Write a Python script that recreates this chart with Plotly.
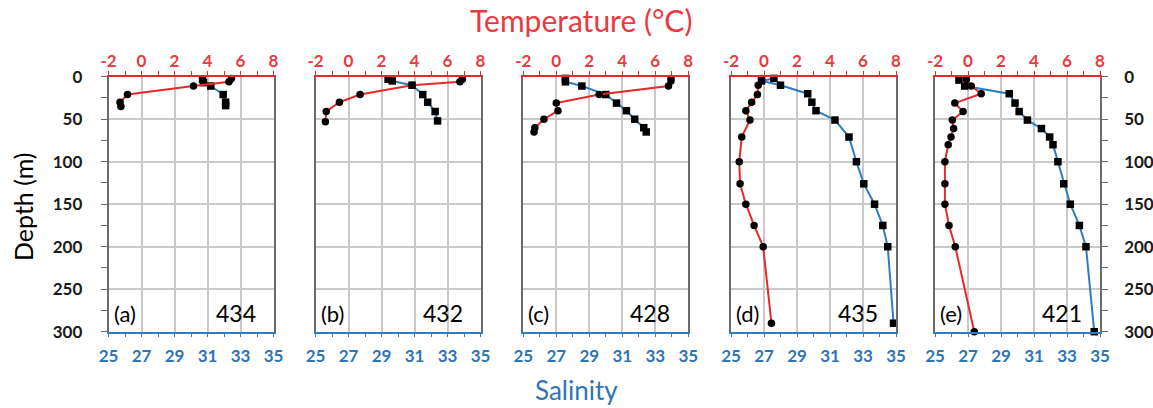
import plotly.graph_objects as go

W, H = 1153, 408

# ---------------- data ----------------
stations = ["434", "432", "428", "435", "421"]
panel_tags = ["(a)", "(b)", "(c)", "(d)", "(e)"]
temp_ticks = [-2, 0, 2, 4, 6, 8]
temp_tick_text = ["-2", "0", "2", "4", "6", "8"]
sal_ticks = [25, 27, 29, 31, 33, 35]
depth_ticks = [0, 50, 100, 150, 200, 250, 300]

temp_depth_a = [2, 6, 11, 21, 30, 35]
temp_a = [5.45, 5.3, 3.15, -0.85, -1.3, -1.25]
sal_depth_a = [3, 7, 11, 21, 30, 34]
sal_a = [30.7, 30.75, 31.2, 31.95, 32.1, 32.1]

temp_depth_b = [3, 6, 10, 21, 30, 41, 53]
temp_b = [6.9, 6.75, 3.85, 0.7, -0.55, -1.35, -1.4]
sal_depth_b = [3, 5, 10, 21, 30, 41, 52]
sal_b = [29.4, 29.65, 30.85, 31.5, 31.8, 32.25, 32.4]

temp_depth_c = [2, 5, 11, 21, 31, 40, 50, 60, 65]
temp_c = [6.95, 6.95, 6.8, 2.6, 0.0, 0.1, -0.75, -1.3, -1.35]
sal_depth_c = [2, 6, 11, 21, 31, 40, 50, 60, 65]
sal_c = [27.55, 27.55, 28.55, 30.0, 30.65, 31.25, 31.75, 32.3, 32.45]

temp_depth_d = [2, 10, 21, 30, 40, 51, 71, 100, 126, 150, 175, 200, 290]
temp_d = [-0.15, -0.35, -0.4, -0.75, -1.1, -0.85, -1.35, -1.5, -1.45, -1.1, -0.6, -0.05, 0.45]
sal_depth_d = [2, 5, 10, 20, 30, 40, 51, 71, 100, 126, 150, 175, 200, 290]
sal_d = [27.6, 26.85, 28.0, 29.65, 29.9, 30.15, 31.3, 32.15, 32.6, 33.05, 33.7, 34.2, 34.5, 34.85]

temp_depth_e = [3, 11, 20, 31, 41, 51, 61, 71, 80, 100, 126, 150, 175, 200, 300]
temp_e = [-0.1, 0.2, 0.8, -0.8, -0.3, -0.95, -0.87, -1.03, -1.2, -1.4, -1.4, -1.4, -1.15, -0.77, 0.38]
sal_depth_e = [4, 11, 20, 31, 41, 51, 61, 71, 80, 100, 126, 150, 175, 200, 300]
sal_e = [26.45, 26.8, 29.5, 29.85, 30.1, 30.6, 31.45, 31.95, 32.15, 32.45, 32.8, 33.2, 33.75, 34.15, 34.65]

panels = [
    (temp_depth_a, temp_a, sal_depth_a, sal_a),
    (temp_depth_b, temp_b, sal_depth_b, sal_b),
    (temp_depth_c, temp_c, sal_depth_c, sal_c),
    (temp_depth_d, temp_d, sal_depth_d, sal_d),
    (temp_depth_e, temp_e, sal_depth_e, sal_e),
]

# ---------------- style ----------------
RED = "#e8292b"
RED_TXT = "#ea3a3f"
BLUE = "#2f7dc0"
BLUE_TXT = "#2e75b6"
GRID = "#c9c9c9"
FRAME = "#6b6b6b"
FONT = "Lato"

left_px = [108.5, 315.5, 523.3, 731.0, 935.0]
panel_w = 165.0
y_top_px, y_bot_px = 76.7, 331.7
ydom = [1 - y_bot_px / H, 1 - y_top_px / H]

fig = go.Figure()
layout = {}

for i, (td, tv, sd, sv) in enumerate(panels):
    xs = f"x{2*i+1}"
    xt = f"x{2*i+2}"
    ya = f"y{i+1}"
    fig.add_trace(go.Scatter(
        x=sv, y=sd, xaxis=xs, yaxis=ya, mode="lines+markers",
        line=dict(color=BLUE, width=2),
        marker=dict(symbol="square", size=7.5, color="black"),
        showlegend=False, cliponaxis=False))
    fig.add_trace(go.Scatter(
        x=tv, y=td, xaxis=xt, yaxis=ya, mode="lines+markers",
        line=dict(color=RED, width=2),
        marker=dict(symbol="circle", size=7.5, color="black"),
        showlegend=False, cliponaxis=False))

    d0 = left_px[i] / W
    d1 = (left_px[i] + panel_w) / W
    xs_name = "xaxis" if i == 0 else f"xaxis{2*i+1}"
    layout[xs_name] = dict(
        domain=[d0, d1], range=[25, 35], anchor=ya, side="bottom",
        tickvals=sal_ticks, showgrid=True, gridcolor=GRID, gridwidth=1.5,
        showline=True, linecolor=BLUE, linewidth=1.5,
        ticks="outside", ticklen=4, tickcolor=BLUE, tickwidth=1,
        minor=dict(dtick=1, tick0=25, ticks="outside", ticklen=4, tickcolor=BLUE, showgrid=False),
        tickfont=dict(family=FONT, size=17, color=BLUE_TXT, weight="bold"),
        ticklabelstandoff=4, zeroline=False, fixedrange=True, automargin=False)
    layout[f"xaxis{2*i+2}"] = dict(
        domain=[d0, d1], range=[-2, 8], anchor=ya, side="top", overlaying=xs,
        tickvals=temp_ticks, ticktext=temp_tick_text, showgrid=False,
        showline=True, linecolor=RED, linewidth=1.5,
        ticks="outside", ticklen=4, tickcolor=RED, tickwidth=1,
        minor=dict(dtick=1, tick0=-2, ticks="outside", ticklen=4, tickcolor=RED, showgrid=False),
        tickfont=dict(family=FONT, size=17, color=RED_TXT, weight="bold"),
        ticklabelstandoff=-3, zeroline=False, fixedrange=True, automargin=False)
    ya_name = "yaxis" if i == 0 else f"yaxis{i+1}"
    layout[ya_name] = dict(
        domain=ydom, range=[300, 0], anchor=xs, tickvals=depth_ticks,
        showgrid=True, gridcolor=GRID, gridwidth=1.5,
        showline=True, linecolor=FRAME, linewidth=1.5, mirror=True,
        ticks="outside" if i == 0 else "", ticklen=6, tickcolor=FRAME,
        minor=dict(dtick=25, tick0=0, ticks="outside" if i == 0 else "", ticklen=6,
                   tickcolor=FRAME, showgrid=False),
        showticklabels=(i == 0),
        tickfont=dict(family=FONT, size=17, color="#1a1a1a", weight="bold"),
        ticklabelstandoff=15, zeroline=False, fixedrange=True, automargin=False)

# right-hand depth labels on the last panel
layout["yaxis6"] = dict(
    domain=ydom, range=[300, 0], anchor="x9", overlaying="y5", side="right",
    tickvals=depth_ticks, showgrid=False, showline=True, linecolor=FRAME, linewidth=1.5,
    ticks="outside", ticklen=6, tickcolor=FRAME,
    minor=dict(dtick=25, tick0=0, ticks="outside", ticklen=6, tickcolor=FRAME, showgrid=False),
    tickfont=dict(family=FONT, size=17, color="#1a1a1a", weight="bold"),
    ticklabelstandoff=13, zeroline=False, fixedrange=True, automargin=False)
fig.add_trace(go.Scatter(x=[None], y=[None], xaxis="x9", yaxis="y6", showlegend=False))

annotations = []
for i in range(5):
    annotations.append(dict(
        x=(left_px[i] + 3) / W, y=1 - 313 / H, xref="paper", yref="paper",
        text=panel_tags[i], showarrow=False, xanchor="left", yanchor="middle",
        font=dict(family=FONT, size=22, color="black")))
    annotations.append(dict(
        x=(left_px[i] + panel_w - 16) / W, y=1 - 313 / H, xref="paper", yref="paper",
        text=stations[i], showarrow=False, xanchor="right", yanchor="middle",
        font=dict(family=FONT, size=23, color="black")))

annotations.append(dict(x=581 / W, y=1 - 20 / H, xref="paper", yref="paper",
                        text="Temperature (°C)", showarrow=False,
                        xanchor="center", yanchor="middle",
                        font=dict(family=FONT, size=30, color=RED_TXT)))
annotations.append(dict(x=576 / W, y=1 - 390 / H, xref="paper", yref="paper",
                        text="Salinity", showarrow=False,
                        xanchor="center", yanchor="middle",
                        font=dict(family=FONT, size=26, color=BLUE_TXT)))
annotations.append(dict(x=23 / W, y=1 - 207 / H, xref="paper", yref="paper",
                        text="Depth (m)", showarrow=False, textangle=-90,
                        xanchor="center", yanchor="middle",
                        font=dict(family=FONT, size=25, color="black")))

fig.update_layout(
    width=W, height=H, margin=dict(l=0, r=0, t=0, b=0),
    paper_bgcolor="white", plot_bgcolor="white",
    annotations=annotations, **layout)

fig.write_html("out.html")
